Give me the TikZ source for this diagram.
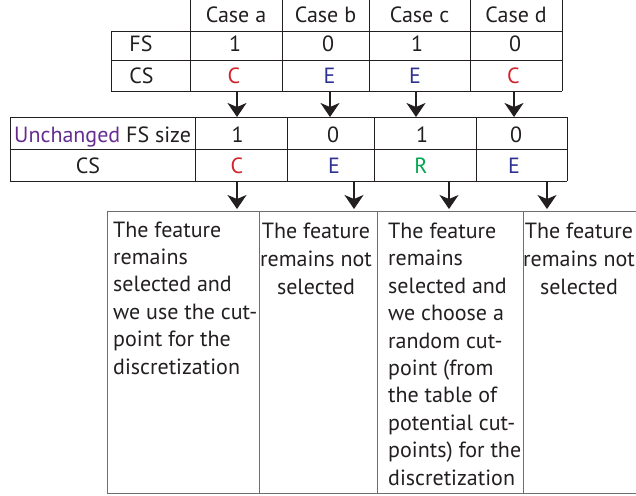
\documentclass[tikz,border=0pt]{standalone}
\usepackage{fontspec}
\setmainfont{PT Sans}
\usetikzlibrary{arrows.meta}
\definecolor{ink}{HTML}{231F20}
\definecolor{cred}{HTML}{D2232A}
\definecolor{cblue}{HTML}{2E3192}
\definecolor{cgreen}{HTML}{00A651}
\definecolor{cpurple}{HTML}{662D91}
\definecolor{boxgray}{HTML}{6D6E71}
\begin{document}
\begin{tikzpicture}[x=1pt,y=-1pt,
  font=\fontsize{22}{27.4}\selectfont,
  grid/.style={draw=ink, line width=0.9pt},
  boxline/.style={draw=boxgray, line width=1pt},
  lbl/.style={anchor=base, inner sep=0pt, text=ink},
  arr/.style={draw=ink, line width=1.3pt, -{Stealth[length=14pt,width=19pt,inset=4pt]}},
  descl/.style={anchor=base west, inner sep=0pt, text=ink, align=left, font=\fontsize{22}{27.4}\selectfont},
  descc/.style={anchor=base, inner sep=0pt, text=ink, align=center, font=\fontsize{22}{27.8}\selectfont}]
\useasboundingbox (0,0) rectangle (636,495);

% ---- top table ----
\draw[grid] (190,-3) -- (562,-3);
\draw[grid] (111,31) -- (562,31) (111,60) -- (562,60) (111,91) -- (562,91) (111,31) -- (111,91);
\foreach \x in {190,282,369,470,562} \draw[grid] (\x,-3) -- (\x,91);

\node[lbl] (ha) at (236,23) {Case a};
\node[lbl] (hb) at (325.5,23) {Case b};
\node[lbl] (hc) at (419.5,23) {Case c};
\node[lbl] (hd) at (516,23) {Case d};
\node[lbl] (fs) at (141,52) {FS};
\node[lbl] (cs) at (141.5,83) {CS};
\node[lbl] (fa) at (235,52) {1};
\node[lbl] (fb) at (328,52) {0};
\node[lbl] (fc) at (417,52) {1};
\node[lbl] (fd) at (515,52) {0};
\node[lbl, text=cred] (ca) at (234,83) {C};
\node[lbl, text=cblue] (cb) at (329.5,83) {E};
\node[lbl, text=cblue] (cc) at (415,83) {E};
\node[lbl, text=cred] (cd) at (513.5,83) {C};

% ---- second table ----
\draw[grid] (10,117) -- (567,117) (10,149) -- (567,149) (10,181) -- (567,181);
\foreach \x in {10,195,287,374,476,567} \draw[grid] (\x,117) -- (\x,181);

\node[lbl, anchor=base west] (ufs) at (14,142) {\textcolor{cpurple}{Unchanged} FS size};
\node[lbl] (cs2) at (88,173) {CS};
\node[lbl] (ua) at (237.5,142) {1};
\node[lbl] (ub) at (333,142) {0};
\node[lbl] (uc) at (422,142) {1};
\node[lbl] (ud) at (516,142) {0};
\node[lbl, text=cred] (va) at (237,173) {C};
\node[lbl, text=cblue] (vb) at (334,173) {E};
\node[lbl, text=cgreen] (vc) at (421,173) {R};
\node[lbl, text=cblue] (vd) at (514,173) {E};

% ---- arrows ----
\coordinate (s1) at (237,92);  \coordinate (e1) at (237,117);
\coordinate (s2) at (330,92);  \coordinate (e2) at (330,117);
\coordinate (s3) at (416,92);  \coordinate (e3) at (416,117);
\coordinate (s4) at (514,92);  \coordinate (e4) at (514,117);
\foreach \i in {1,2,3,4} \draw[arr] (s\i) -- (e\i);

\coordinate (t1) at (237,182); \coordinate (g1) at (237,209);
\coordinate (t2) at (354,182); \coordinate (g2) at (354,209);
\coordinate (t3) at (449,182); \coordinate (g3) at (449,209);
\coordinate (t4) at (547,182); \coordinate (g4) at (547,209);
\foreach \i in {1,2,3,4} \draw[arr] (t\i) -- (g\i);

% ---- bottom boxes ----
\draw[boxline] (107,211) rectangle (648,493);
\foreach \x in {259,377,523} \draw[boxline] (\x,211) -- (\x,493);

% base anchor of a multi-line node = baseline of its last line
\node[descl] (d1) at (113,374) {The feature\\remains\\selected and\\we use the cut-\\point for the\\discretization};
\node[descc] (d2) at (316,294) {The feature\\remains not\\selected};
\node[descl] (d3) at (388,485) {The feature\\remains\\selected and\\we choose a\\random cut-\\point (from\\the table of\\potential cut-\\points) for the\\discretization};
\node[descc] (d4) at (579,294) {The feature\\remains not\\selected};
\end{tikzpicture}
\end{document}
